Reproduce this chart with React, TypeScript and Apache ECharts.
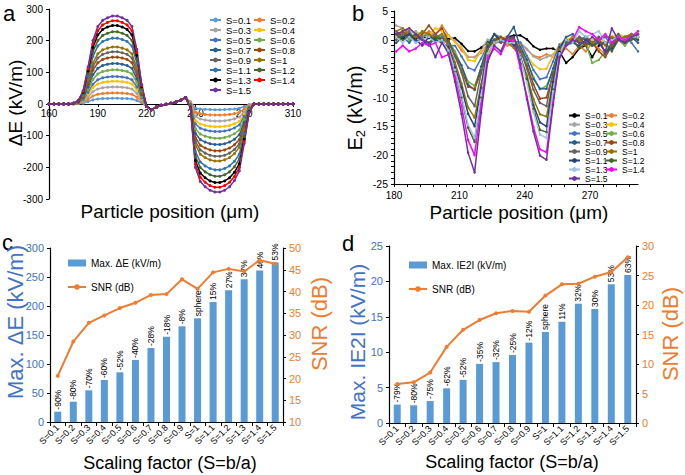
import React, { useEffect, useRef } from "react";
import * as echarts from "echarts";

const FONT = "'Liberation Sans', Arial, Helvetica, sans-serif";

const sLabels = ["S=0.1", "S=0.2", "S=0.3", "S=0.4", "S=0.5", "S=0.6", "S=0.7", "S=0.8", "S=0.9", "S=1", "S=1.1", "S=1.2", "S=1.3", "S=1.4", "S=1.5"];

const colorsA = ["#5B9BD5", "#ED7D31", "#A5A5A5", "#FFC000", "#4472C4", "#70AD47", "#255E91", "#9E480E", "#636363", "#997300", "#2E75B6", "#43682B", "#000000", "#FF0000", "#7030A0"];
const colorsB = ["#000000", "#ED7D31", "#A5A5A5", "#FFC000", "#4472C4", "#70AD47", "#255E91", "#9E480E", "#636363", "#997300", "#264478", "#43682B", "#9DC3E6", "#FF00FF", "#7030A0"];

// Panel a: positions (µm), normalised profile of the field change, part common to all S, peak per S
const aPositions = [160, 163, 166, 169, 172, 175, 178, 181, 184, 187, 190, 193, 196, 199, 202, 205, 208, 211, 214, 217, 220, 223, 226, 229, 232, 235, 238, 241, 244, 247, 250, 253, 256, 259, 262, 265, 268, 271, 274, 277, 280, 283, 286, 289, 292, 295, 298, 301, 304, 307, 310];
const aProfile = [0, 0, 0, 0, 0, 0.01, 0.04, 0.15, 0.42, 0.72, 0.88, 0.95, 0.98, 1, 1, 0.98, 0.95, 0.88, 0.62, 0.22, 0, 0, 0, 0, 0, 0, 0, 0, 0, -0.08, -0.72, -0.88, -0.94, -0.98, -1, -1, -0.98, -0.94, -0.87, -0.76, -0.45, -0.1, 0, 0, 0, 0, 0, 0, 0, 0, 0];
const aCommon = [0, 0, 0, 0, 0, 0, 0, 0, 0, 0, 0, 0, 0, 0, 0, 0, 0, 0, 0, 0, -8, -18, -10, -4, -1, 2, 6, 12, 20, 8, 0, 0, 0, 0, 0, 0, 0, 0, 0, 0, 0, 0, 0, 0, 0, 0, 0, 0, 0, 0, 0];
const aPeaks = [18, 35, 54, 72, 87, 108, 128, 148, 165, 180, 208, 228, 248, 263, 278];

// Panel b
const bPositions = [181, 184, 187, 190, 193, 196, 199, 202, 205, 208, 211, 214, 217, 220, 223, 226, 229, 232, 235, 238, 241, 244, 247, 250, 253, 256, 259, 262, 265, 268, 271, 274, 277, 280, 283, 286, 289, 292];
const bTickValues = [180, 186, 192, 198, 204, 210, 216, 222, 228, 234, 240, 246, 252, 258, 264, 270, 276, 282, 288];
const bLabelValues = [180, 210, 240, 270];
const bDip1Shape = [0, 0, 0, 0, 0, 0, 0, 0, 0.08, 0.25, 0.45, 0.72, 1, 0.42, 0.08, 0, 0, 0, 0, 0, 0, 0, 0, 0, 0, 0, 0, 0, 0, 0, 0, 0, 0, 0, 0, 0, 0, 0];
const bDip2Shape = [0, 0, 0, 0, 0, 0, 0, 0, 0, 0, 0, 0, 0, 0, 0, 0, 0, 0, 0.03, 0.15, 0.35, 0.62, 0.82, 1, 0.35, 0.05, 0, 0, 0, 0, 0, 0, 0, 0, 0, 0, 0, 0];
const bDip1Depth = [2, 3, 3, 3.7, 5.3, 8, 8.7, 8.5, 11.5, 13.5, 15, 17.7, 17, 20, 23];
const bDip2Depth = [1.5, 2.5, 3, 5, 6.5, 8, 8.5, 10, 11.5, 13.3, 15, 16, 17, 19.5, 20.8];
const bNoise = [
  [0.5, 0.3, 0.8, 0.2, 0.5, 0.3, 0.4, 0.2, 0.3, 0.8, 0.2, -0.5, 0, -0.5, -0.3, 0, 0.2, 0.5, 0.8, 1.0, 0.6, -0.2, -0.5, 0, -1.0, -2.0, -4.0, -3.0, -1.5, -1.0, -3.0, -1.0, -0.5, 0.2, 0.3, 0.5, 0.8, 1.0],
  [1.5, 0.8, 2.0, 1.0, 0.5, 1.5, 0.8, 2.5, 1.0, 0.5, -0.5, -0.8, 0, -1.0, -0.5, -0.8, 0, -1.0, -0.5, -0.3, -0.8, -1.2, -1.0, 0, -2.0, -1.5, -1.5, -2.5, -1.0, -2.0, -0.5, -1.5, -2.5, -1.0, 0.5, -1.0, 0.5, -0.5],
  [2.5, 2.0, 1.0, 1.5, 0.5, 1.0, 0.5, 0.8, 1.0, 0.5, 0.0, -0.8, 0, -0.5, 0.3, -0.5, 0.5, 0.0, -0.5, 0.0, -0.5, -1.0, -1.0, 0, -1.5, -1.0, -0.5, 0.5, 0.0, -0.5, 0.0, 0.5, -0.5, 0.0, 0.5, 0.3, 0.8, 1.0],
  [0.0, 1.5, 2.0, 1.0, 0.5, 0.8, 2.0, 1.5, 1.0, 0.5, 0.3, -0.8, 0, -0.5, -1.0, -0.5, 0.3, 0.5, 0.0, -0.5, -1.0, -1.2, -1.0, 0, -1.0, -0.5, 0.0, 0.5, -0.5, 0.5, 0.0, 0.5, -0.5, 0.5, 1.0, 0.5, 0.5, 1.0],
  [1.0, 0.5, 1.5, -0.5, 0.5, 1.0, 0.0, 0.5, -0.5, 0.3, -0.5, -1.0, 0, -1.0, -0.5, 0.0, 0.5, -0.5, 0.0, 0.5, -0.5, -1.2, -1.5, 0, -1.5, -0.5, -1.0, -0.5, 0.0, 0.5, -1.0, 0.0, 0.5, -1.0, 0.0, 0.5, -0.5, -2.0],
  [0.5, 1.0, 0.0, 0.5, 1.5, 0.5, -0.5, 1.0, 0.5, 0.0, -1.0, -1.5, 0, -1.5, 0.0, 1.0, 0.5, 0.0, 0.0, -0.5, -1.0, -1.5, -2.0, 0, -2.5, -1.0, -0.5, 0.0, -1.5, -0.5, -4.0, -3.5, -2.0, -0.5, 0.0, -1.0, 0.5, 0.5],
  [1.5, 0.5, -0.5, 1.0, 0.0, -1.0, 0.5, 0.0, 0.5, -0.5, -0.5, -1.5, 0, -1.0, -0.5, 1.0, -0.5, 0.5, 2.5, 0.0, -0.5, -1.5, -1.5, 0, -2.0, -1.0, 0.5, 1.0, -0.5, 0.5, -0.5, 0.5, -2.5, -0.5, 1.0, -0.5, 0.5, -0.5],
  [0.5, 1.5, 0.5, 0.0, 1.0, 2.5, 1.0, 2.0, 0.5, -0.5, -1.5, -2.0, 0, -2.0, -1.0, 0.0, 0.5, 0.0, 0.0, -0.5, -1.0, -1.5, -2.0, 0, -2.5, -1.0, 0.0, -0.5, 0.5, -1.0, -0.5, -2.0, -3.0, -1.0, 0.5, 0.0, 1.0, 0.5],
  [0.0, 1.0, 0.5, 0.5, 0.0, 0.5, 1.0, 0.0, 0.5, 0.0, -0.5, -1.5, 0, -1.0, -0.5, 0.0, -0.5, 0.0, 0.5, 0.0, -1.0, -1.5, -1.5, 0, -1.5, -1.0, 0.0, -0.5, 0.5, 0.0, -0.5, 0.0, 0.5, 0.5, 0.0, 0.5, 1.0, 0.5],
  [1.5, 2.0, 1.0, 0.5, 1.5, 1.0, 0.5, 1.0, 0.0, -0.5, -1.5, -2.0, 0, -2.0, -1.5, -0.5, 0.0, -0.5, -1.0, -1.0, -1.5, -2.0, -2.0, 0, -2.5, -1.0, -0.5, 0.5, 0.0, -1.0, -0.5, 0.0, -1.0, 0.5, 0.0, 0.5, 1.0, 0.5],
  [-0.5, 0.5, 1.0, 0.0, -1.0, 0.5, 0.0, -0.5, 0.0, -1.0, -1.5, -2.0, 0, -2.0, 0.0, 1.0, 0.0, 0.0, -0.5, -1.0, -1.5, -2.0, -2.0, 0, -2.0, -0.5, 0.0, -0.5, -1.0, 0.0, -1.0, -0.5, -2.0, -1.5, 0.0, -0.5, 0.5, 0.0],
  [1.0, 0.0, 0.5, 1.0, 0.0, -0.5, 0.5, 0.0, -0.5, -1.0, -2.0, -2.5, 0, -2.5, 0.5, -0.5, 0.0, 0.0, 1.0, -0.5, -1.0, -2.0, -2.5, 0, -3.0, -1.5, -0.5, 0.0, -1.5, -0.5, -1.0, -0.5, -0.5, -2.0, 0.0, -0.5, 0.0, 0.5],
  [0.5, -0.5, 0.5, -0.5, 0.0, 0.5, -0.5, 0.0, -0.5, -1.0, -2.0, -2.5, 0, -2.5, -1.0, -0.5, 0.0, -0.5, 0.0, -0.5, -1.5, -2.0, -2.5, 0, -3.0, -1.5, 0.0, -0.5, 1.5, 0.5, 1.0, 1.5, -0.5, 0.0, 0.5, 0.0, 0.5, 0.5],
  [-2.0, -1.0, -2.0, -1.5, -0.5, -1.0, -0.5, -3.0, -1.0, -1.5, -2.5, -3.0, 0, -3.0, -1.5, -1.5, -2.5, 0.0, 0.5, -2.0, -3.0, -3.0, -3.0, 0, -4.0, -2.0, -1.0, 0.0, 2.2, 1.5, 1.0, 0.0, 1.0, -0.5, 0.5, 0.0, 0.5, 1.5],
  [1.0, 1.5, 2.0, 1.0, 0.0, -0.5, -3.0, -0.5, -0.5, -1.5, -2.5, -3.0, 0, -3.0, -2.0, -1.0, -2.0, 0.5, 1.0, -1.0, -3.0, -3.0, -3.0, 0, -4.0, -2.0, -1.0, 0.0, -0.5, -0.5, 0.5, -0.5, -2.0, 2.0, 0.0, -0.5, 0.5, 1.0],
];

// Panels c and d
const cMaxDE = [17.8, 35, 54.6, 72.4, 85.7, 107, 127.6, 147, 165, 178.8, 206.9, 227, 246, 261, 275];
const cSNR = [20.6, 28.5, 32.8, 34.5, 36.2, 37.4, 39.2, 39.4, 42.8, 40.6, 44.4, 45.2, 44.6, 47.2, 46.4];
const cPct = ["-90%", "-80%", "-70%", "-60%", "-52%", "-40%", "-28%", "-18%", "-8%", "sphere", "15%", "27%", "37%", "46%", "53%"];
const dMaxE2 = [2.6, 2.5, 3.1, 4.9, 6.1, 8.35, 8.6, 9.6, 11.35, 12.86, 14.3, 16.85, 16.1, 19.6, 20.9];
const dSNR = [6.6, 6.9, 8.55, 12.9, 15.8, 17.45, 18.6, 19.0, 18.85, 21.6, 23.5, 23.6, 24.8, 25.6, 28.1];
const dPct = ["-79%", "-80%", "-75%", "-62%", "-52%", "-35%", "-32%", "-25%", "-12%", "sphere", "11%", "32%", "30%", "53%", "63%"];

const BAR_BLUE = "#5B9BD5";
const ORANGE = "#ED7D31";
const AXIS_BLUE = "#4472C4";

const axisLineBlack = { show: true, onZero: false, lineStyle: { color: "#000", width: 1.2 } };

function txt(text: string, x: number, y: number, size: number, opts: any = {}) {
  return {
    type: "text",
    x,
    y,
    rotation: opts.rot || 0,
    style: {
      text,
      fontSize: size,
      fontFamily: FONT,
      fill: opts.color || "#000",
      align: opts.align || "center",
      verticalAlign: opts.va || "middle",
      rich: opts.rich,
    },
  };
}

function optionA() {
  const legendBase = {
    orient: "vertical",
    itemWidth: 11,
    itemHeight: 6,
    itemGap: 0,
    textStyle: { fontSize: 9.5, lineHeight: 9.7, color: "#000", fontFamily: FONT },
  };
  return {
    animation: false,
    textStyle: { fontFamily: FONT },
    grid: { left: 49, top: 9, width: 244, height: 190 },
    xAxis: {
      type: "value", min: 160, max: 310, interval: 30,
      position: "bottom",
      offset: -95,
      axisLine: { show: true, onZero: false, lineStyle: { color: "#000", width: 1.2 } },
      axisTick: { show: true, length: 3, lineStyle: { color: "#000" } },
      axisLabel: { fontSize: 10, color: "#000", margin: 4 },
      splitLine: { show: false },
    },
    yAxis: {
      type: "value", min: -300, max: 300, interval: 100,
      axisLine: axisLineBlack,
      axisTick: { show: true, length: 3, lineStyle: { color: "#000" } },
      axisLabel: { fontSize: 10, color: "#000", margin: 6 },
      splitLine: { show: false },
    },
    legend: [
      { ...legendBase, left: 204, top: 10, data: sLabels.filter((_, i) => i % 2 === 0) },
      { ...legendBase, left: 248, top: 10, data: sLabels.filter((_, i) => i % 2 === 1) },
    ],
    graphic: [
      txt("a", 3, 13, 22, { align: "left" }),
      txt("ΔE (kV/m)", 15, 103, 19, { rot: Math.PI / 2 }),
      txt("Particle position (μm)", 170, 211, 19),
    ],
    series: sLabels.map((name, s) => ({
      type: "line",
      name,
      data: aPositions.map((x, i) => [x, +(aPeaks[s] * aProfile[i] + aCommon[i]).toFixed(1)]),
      symbol: "circle",
      symbolSize: 3,
      lineStyle: { width: 1.5, color: colorsA[s] },
      itemStyle: { color: colorsA[s] },
    })),
  };
}

function optionB() {
  const legendBase = {
    orient: "vertical",
    itemWidth: 11,
    itemHeight: 6,
    itemGap: 0,
    textStyle: { fontSize: 8.5, lineHeight: 9, color: "#000", fontFamily: FONT },
  };
  return {
    animation: false,
    textStyle: { fontFamily: FONT },
    grid: { left: 52, top: 11, width: 244, height: 173 },
    xAxis: {
      type: "value", min: 180, max: 292,
      axisLine: axisLineBlack,
      axisTick: { show: true, length: 3, customValues: bTickValues, lineStyle: { color: "#000" } },
      axisLabel: { fontSize: 10, color: "#000", margin: 6, customValues: bLabelValues },
      splitLine: { show: false },
    },
    yAxis: {
      type: "value", min: -25, max: 5, interval: 5,
      axisLine: axisLineBlack,
      axisTick: { show: true, length: 3, lineStyle: { color: "#000" } },
      minorTick: { show: true, splitNumber: 5, length: 3, lineStyle: { color: "#000" } },
      axisLabel: { fontSize: 10.5, color: "#000", margin: 6 },
      splitLine: { show: false },
    },
    legend: [
      { ...legendBase, left: 221, top: 106, data: sLabels.filter((_, i) => i % 2 === 0) },
      { ...legendBase, left: 258, top: 106, data: sLabels.filter((_, i) => i % 2 === 1) },
    ],
    graphic: [
      txt("b", 10, 13, 22, { align: "left" }),
      txt("{n|E}{sub|2}{n| (kV/m)}", 13, 108, 20, {
        rot: Math.PI / 2,
        rich: {
          n: { fontSize: 20, lineHeight: 24, fontFamily: FONT },
          sub: { fontSize: 13, lineHeight: 24, verticalAlign: "bottom", fontFamily: FONT },
        },
      }),
      txt("Particle position (μm)", 177, 212, 19),
    ],
    series: sLabels.map((name, s) => ({
      type: "line",
      name,
      data: bPositions.map((x, i) => [
        x,
        +(bNoise[s][i] - bDip1Depth[s] * bDip1Shape[i] - bDip2Depth[s] * bDip2Shape[i]).toFixed(2),
      ]),
      symbol: "circle",
      symbolSize: 2.5,
      lineStyle: { width: 1.5, color: colorsB[s] },
      itemStyle: { color: colorsB[s] },
    })),
  };
}

function optionBar(cfg: any) {
  return {
    animation: false,
    textStyle: { fontFamily: FONT },
    grid: cfg.grid,
    legend: {
      orient: "vertical",
      left: cfg.legendLeft,
      top: cfg.legendTop,
      itemGap: 12,
      itemWidth: 18,
      itemHeight: 7,
      textStyle: { fontSize: 10, lineHeight: 12, color: "#000", fontFamily: FONT },
      data: [{ name: cfg.barName, icon: "rect" }, { name: "SNR (dB)" }],
    },
    xAxis: {
      type: "category",
      data: sLabels,
      axisLine: axisLineBlack,
      axisTick: { show: true, length: 4, lineStyle: { color: "#000" } },
      axisLabel: { rotate: 45, fontSize: 9, color: "#000", margin: 4, interval: 0 },
    },
    yAxis: [
      {
        type: "value", min: cfg.leftMin, max: cfg.leftMax, interval: cfg.leftInterval, position: "left",
        axisLine: axisLineBlack,
        axisTick: { show: true, length: 3, lineStyle: { color: "#000" } },
        axisLabel: { fontSize: 11, color: AXIS_BLUE, margin: 6 },
        splitLine: { show: false },
      },
      {
        type: "value", min: cfg.rightMin, max: cfg.rightMax, interval: 5, position: "right",
        axisLine: axisLineBlack,
        axisTick: { show: true, length: 3, lineStyle: { color: "#000" } },
        axisLabel: { fontSize: 11, color: ORANGE, margin: 6 },
        splitLine: { show: false },
      },
    ],
    graphic: cfg.graphic,
    series: [
      {
        type: "bar",
        name: cfg.barName,
        data: cfg.bars,
        barWidth: 7,
        itemStyle: { color: BAR_BLUE },
        label: {
          show: true,
          position: "top",
          rotate: 90,
          align: "left",
          verticalAlign: "middle",
          distance: 2,
          fontSize: 8.5,
          color: "#000",
          fontFamily: FONT,
          formatter: (p: any) => cfg.pct[p.dataIndex],
        },
      },
      {
        type: "line",
        name: "SNR (dB)",
        yAxisIndex: 1,
        data: cfg.snr,
        symbol: "circle",
        symbolSize: 4,
        lineStyle: { width: 2, color: ORANGE },
        itemStyle: { color: ORANGE },
      },
    ],
  };
}

function optionC() {
  return optionBar({
    grid: { left: 50, top: 18, width: 233, height: 174 },
    legendLeft: 62, legendTop: 22,
    barName: "Max. ΔE (kV/m)",
    bars: cMaxDE, snr: cSNR, pct: cPct,
    leftMin: 0, leftMax: 300, leftInterval: 50,
    rightMin: 10, rightMax: 50,
    graphic: [
      txt("c", 2, 12, 22, { align: "left" }),
      txt("Max. ΔE (kV/m)", 15, 92, 22, { rot: Math.PI / 2, color: AXIS_BLUE }),
      txt("SNR (dB)", 319, 94, 22, { rot: Math.PI / 2, color: ORANGE }),
      txt("Scaling factor (S=b/a)", 170, 233, 18),
    ],
  });
}

function optionD() {
  return optionBar({
    grid: { left: 47, top: 16, width: 247, height: 177 },
    legendLeft: 61, legendTop: 24,
    barName: "Max. IE2I (kV/m)",
    bars: dMaxE2, snr: dSNR, pct: dPct,
    leftMin: 0, leftMax: 25, leftInterval: 5,
    rightMin: 0, rightMax: 30,
    graphic: [
      txt("d", 0, 13, 22, { align: "left" }),
      txt("Max. IE2I (kV/m)", 15, 112, 21, { rot: Math.PI / 2, color: AXIS_BLUE }),
      txt("SNR (dB)", 328, 104, 22, { rot: Math.PI / 2, color: ORANGE }),
      txt("Scaling factor (S=b/a)", 170, 232, 18),
    ],
  });
}

const PANELS = [
  { left: 0, top: 0, width: 342, height: 230, make: optionA },
  { left: 342, top: 0, width: 343, height: 230, make: optionB },
  { left: 0, top: 230, width: 342, height: 245, make: optionC },
  { left: 342, top: 230, width: 343, height: 245, make: optionD },
];

export default function App() {
  const refs = [useRef<HTMLDivElement>(null), useRef<HTMLDivElement>(null), useRef<HTMLDivElement>(null), useRef<HTMLDivElement>(null)];
  useEffect(() => {
    const charts = PANELS.map((p, i) => {
      const c = echarts.init(refs[i].current as HTMLDivElement, undefined, { renderer: "svg" });
      c.setOption(p.make() as any);
      return c;
    });
    return () => charts.forEach((c) => c.dispose());
  }, []);
  return (
    <div style={{ position: "absolute", left: 0, top: 0, width: 685, height: 475, background: "#fff" }}>
      {PANELS.map((p, i) => (
        <div
          key={i}
          ref={refs[i]}
          style={{ position: "absolute", left: p.left, top: p.top, width: p.width, height: p.height }}
        />
      ))}
    </div>
  );
}
